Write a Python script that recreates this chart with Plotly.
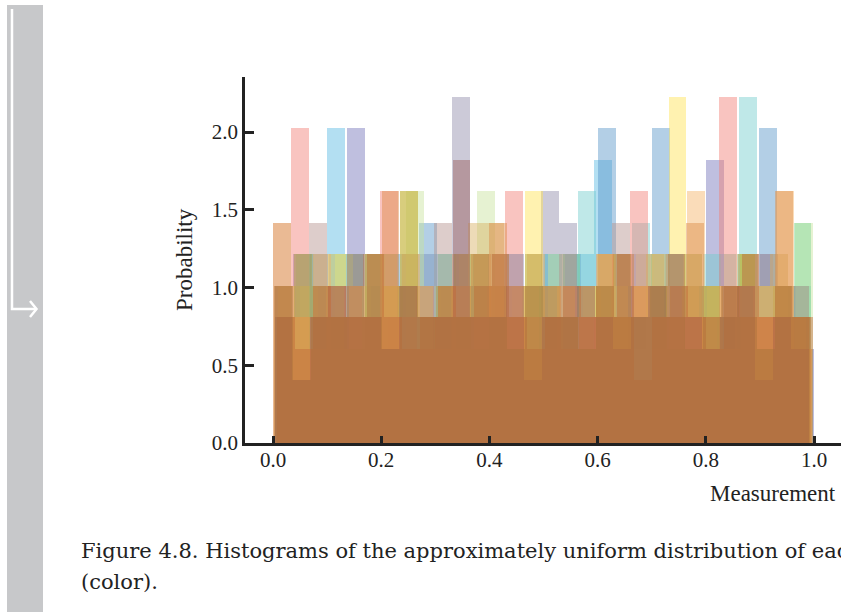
import plotly.graph_objects as go

# ---------------- data: per-series histogram bar heights in counts (30 bins) ----------------
series_names = [
    "gray_purple", "lavender", "sky_blue", "blue", "cyan", "light_green", "green",
    "yellow", "salmon", "rosy_brown", "peach", "olive", "gold", "orange",
    "mauve", "red_orange", "brown",
]
series_colors = [
    "#8e89a8", "#7171b8", "#56b8e2", "#5694c7", "#71cccc", "#c7e29b", "#7ad493",
    "#ffe24f", "#f27c73", "#b4908c", "#f4b163", "#a8a040", "#d8b060", "#dc8a44",
    "#9a5a5a", "#c06838", "#a8703c",
]
# data range (min, max sample) of each series -> bin edges
series_min = [0.002, 0.004, 0.001, 0.005, 0.0013, 0.017, 0.010, 0.0026, 0.000, 0.001,
              0.0085, 0.006, 0.000, 0.002, 0.003, 0.008, 0.004]
series_max = [0.990, 1.000, 0.988, 0.998, 0.994, 0.998, 0.995, 0.996, 0.990, 0.990,
              0.996, 0.990, 0.985, 0.995, 0.990, 0.998, 0.993]
# probability density carried by one sample (height step)
density_per_count = 0.2025

gray_purple = [5,4,6,5,3,6,5,4,6,4,11,5,3,6,4,8,7,5,3,6,4,5,6,3,5,4,6,5,4,5]
lavender    = [4,6,5,3,10,5,4,6,3,5,4,6,5,3,5,4,6,5,4,3,6,5,4,5,9,4,3,6,5,3]
sky_blue    = [3,5,4,10,6,5,3,4,5,6,4,3,5,6,4,5,3,6,9,4,5,3,6,4,5,6,4,3,5,4]
blue        = [4,5,3,6,4,5,6,3,7,4,5,6,3,4,5,6,3,4,10,5,3,10,4,3,5,4,3,10,4,3]
cyan        = [5,4,6,3,5,4,6,5,3,4,6,5,4,3,5,6,4,8,3,5,7,4,3,5,6,4,11,3,4,5]
light_green = [3,5,4,6,5,4,3,8,5,4,6,8,4,5,3,6,4,5,4,3,6,5,4,3,5,6,4,5,3,7]
green       = [4,6,3,5,4,6,5,4,3,6,5,4,6,3,5,4,6,5,3,4,5,6,4,5,3,4,6,5,4,7]
yellow      = [4,5,3,6,4,6,5,8,4,3,5,6,4,5,8,4,3,5,6,4,5,3,11,4,5,3,6,4,5,3]
salmon      = [7,10,3,4,5,2,8,4,5,3,6,4,5,8,3,4,5,3,4,6,8,3,5,4,2,11,3,4,5,4]
rosy_brown  = [5,3,7,4,5,6,4,3,5,7,4,5,6,3,4,5,6,4,3,7,5,4,6,5,3,4,5,6,4,5]
peach       = [5,4,6,3,5,4,5,6,4,5,3,6,4,5,6,4,3,5,6,4,5,6,4,8,5,3,4,5,8,3]
olive       = [4,6,5,4,3,6,5,8,4,5,6,3,5,4,6,5,4,3,5,6,4,5,3,6,5,4,6,3,5,4]
gold        = [7,4,3,5,3,4,6,4,5,3,5,7,7,4,5,3,5,4,3,5,3,6,4,5,4,3,4,5,6,4]
orange      = [5,4,4,5,4,4,8,4,3,4,5,4,7,4,4,5,3,4,6,4,5,4,4,7,4,5,4,4,8,4]
mauve       = [4,2,4,5,4,4,3,5,4,4,9,4,4,5,2,4,4,5,4,3,4,5,4,4,3,4,5,2,4,3]
red_orange  = [4,3,5,4,4,6,4,3,4,5,4,5,6,4,3,4,5,4,4,6,2,4,5,4,3,5,6,4,4,4]
brown       = [5,2,4,4,6,4,3,5,4,4,4,6,4,3,5,4,4,3,5,4,4,5,6,3,4,5,4,3,5,4]

series_counts = [gray_purple, lavender, sky_blue, blue, cyan, light_green, green,
                 yellow, salmon, rosy_brown, peach, olive, gold, orange,
                 mauve, red_orange, brown]

x_ticks = [0.0, 0.2, 0.4, 0.6, 0.8, 1.0]
y_ticks = [0.0, 0.5, 1.0, 1.5, 2.0]

x_title = "Measurement"
y_title = "Probability"
caption_line1 = "Figure 4.8. Histograms of the approximately uniform distribution of each"
caption_line2 = "(color)."

# ---------------- figure ----------------
W, H = 841, 613
L, R, T, B = 245, 0, 77, 170
ALPHA = 0.45


def rgba(hexcol, a):
    h = hexcol.lstrip("#")
    return "rgba(%d,%d,%d,%.3f)" % (int(h[0:2], 16), int(h[2:4], 16), int(h[4:6], 16), a)


def px_x(p):
    return (p - L) / (W - L - R)


def px_y(p):
    return (H - B - p) / (H - T - B)


fig = go.Figure()
for name, col, lo, hi, counts in zip(series_names, series_colors, series_min, series_max, series_counts):
    nb = len(counts)
    w = (hi - lo) / nb
    xs = [lo + (i + 0.5) * w for i in range(nb)]
    ys = [c * density_per_count for c in counts]
    fig.add_trace(go.Bar(
        x=xs, y=ys, width=w, name=name, showlegend=False,
        marker=dict(color=rgba(col, ALPHA), line=dict(width=0)),
    ))

axis_font = dict(family="Liberation Serif", size=21, color="#222222")

fig.update_layout(
    width=W, height=H,
    margin=dict(l=L, r=R, t=T, b=B, pad=0),
    paper_bgcolor="white", plot_bgcolor="white",
    barmode="overlay", bargap=0,
    xaxis=dict(
        range=[-0.0518, 1.0499], tickvals=x_ticks, tickformat=".1f",
        showgrid=False, zeroline=False, showline=True, linecolor="#222222", linewidth=2.5,
        ticks="inside", ticklen=7, tickwidth=2.5, tickcolor="#222222",
        tickfont=axis_font, automargin=False, ticklabelstandoff=-4,
    ),
    yaxis=dict(
        range=[0, 2.354], tickvals=y_ticks, tickformat=".1f",
        showgrid=False, zeroline=False, showline=True, linecolor="#222222", linewidth=2.5,
        ticks="inside", ticklen=9, tickwidth=2.5, tickcolor="#222222",
        tickfont=axis_font, automargin=False, ticklabelstandoff=0,
    ),
)

label_font = dict(family="Liberation Serif", size=23, color="#222222")
cap_font = dict(family="DejaVu Serif", size=21, color="#222222")

fig.add_annotation(text=x_title, xref="paper", yref="paper", x=px_x(838), y=px_y(493),
                   xanchor="right", yanchor="middle", showarrow=False, font=label_font)
fig.add_annotation(text=y_title, xref="paper", yref="paper", x=px_x(184), y=px_y(260),
                   xanchor="center", yanchor="middle", textangle=-90, showarrow=False, font=label_font)
fig.add_annotation(text=caption_line1, xref="paper", yref="paper", x=px_x(79), y=px_y(551),
                   xanchor="left", yanchor="middle", showarrow=False, font=cap_font)
fig.add_annotation(text=caption_line2, xref="paper", yref="paper", x=px_x(79), y=px_y(582),
                   xanchor="left", yanchor="middle", showarrow=False, font=cap_font)

# page sidebar with the return arrow
fig.add_shape(type="rect", xref="paper", yref="paper",
              x0=px_x(7), x1=px_x(43), y0=px_y(612), y1=px_y(5),
              fillcolor="#c7c8ca", line=dict(width=0))


def path(points):
    return "M " + " L ".join("%f,%f" % (px_x(a), px_y(b)) for a, b in points)


fig.add_shape(type="path", xref="paper", yref="paper",
              path=path([(12, 9), (12, 309), (36, 309)]),
              line=dict(color="white", width=2.5))
fig.add_shape(type="path", xref="paper", yref="paper",
              path=path([(30, 301), (36.5, 309), (30, 317)]),
              line=dict(color="white", width=2.5))

fig.write_html("out.html")
